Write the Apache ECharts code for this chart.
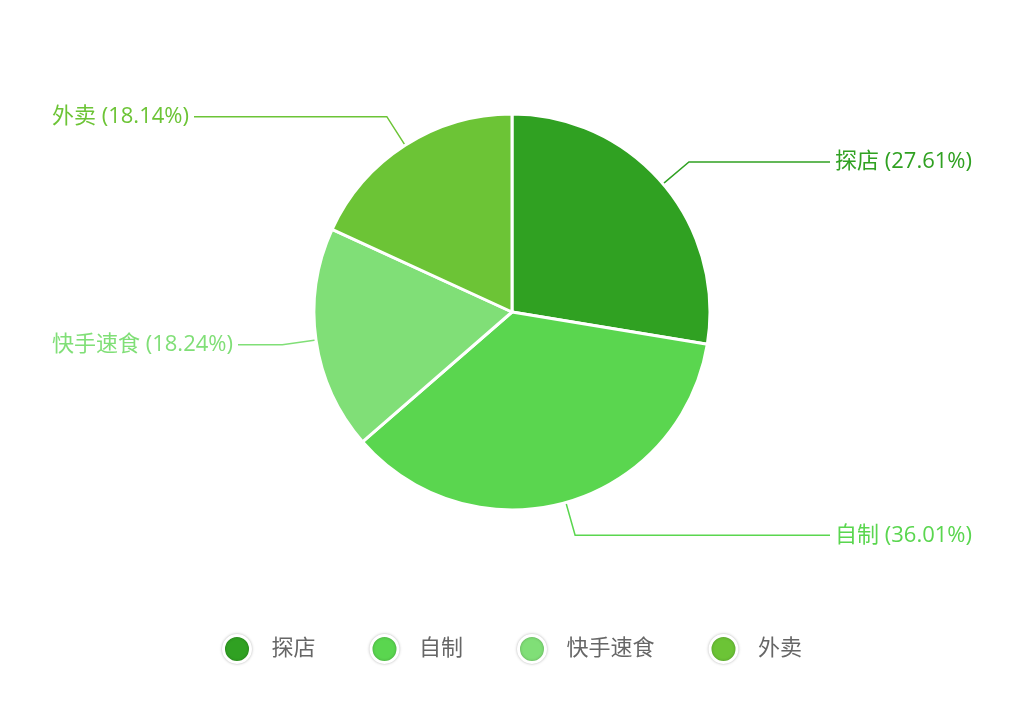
<!DOCTYPE html>
<html>
<head>
<meta charset="utf-8">
<script src="https://cdn.jsdelivr.net/npm/echarts@6/dist/echarts.min.js"></script>
<style>
html, body { margin: 0; padding: 0; background: #fff; }
#chart { width: 1024px; height: 710px; }
</style>
</head>
<body>
<div id="chart"></div>
<script>
var categories = ['探店', '自制', '快手速食', '外卖'];
var shares = [27.61, 36.01, 18.24, 18.14];
var colors = ['#30a122', '#5ad64f', '#80df77', '#6cc436'];

var pieData = categories.map(function(name, i) {
   return { name: name, value: shares[i] };
});

var chart = echarts.init(document.getElementById('chart'));

chart.setOption({
   color: colors,
   textStyle: {
      fontFamily: '"Open Sans", "Noto Sans CJK SC", sans-serif'
   },
   legend: {
      top: 629,
      left: 'center',
      icon: 'circle',
      itemWidth: 27,
      itemHeight: 27,
      itemGap: 54,
      textStyle: {
         fontSize: 22,
         color: '#666',
         padding: [0, 0, 0, 16]
      },
      itemStyle: {
         borderColor: '#fff',
         borderWidth: 3,
         shadowBlur: 3,
         shadowColor: 'rgba(0,0,0,0.25)'
      },
      data: categories
   },
   series: [{
      type: 'pie',
      center: [512, 312],
      radius: 198,
      startAngle: 90,
      data: pieData,
      itemStyle: {
         borderColor: '#fff',
         borderWidth: 3
      },
      label: {
         formatter: '{b} ({d}%)',
         fontSize: 22,
         color: 'inherit',
         alignTo: 'edge',
         edgeDistance: 52
      },
      labelLine: {
         length: 34,
         length2: 20,
         lineStyle: { width: 1.5 }
      }
   }]
});
</script>
</body>
</html>
